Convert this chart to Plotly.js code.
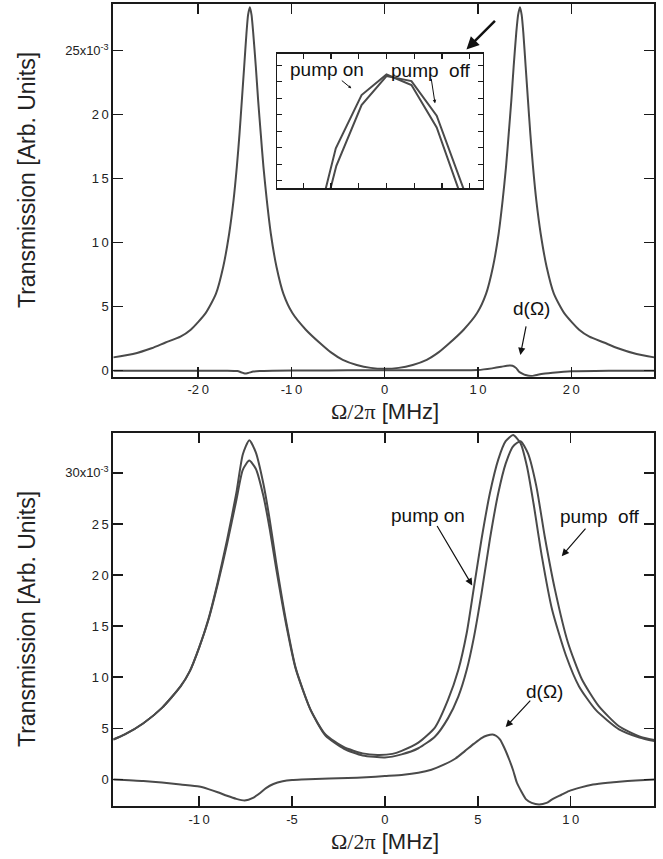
<!DOCTYPE html>
<html>
<head>
<meta charset="utf-8">
<script src="https://cdn.plot.ly/plotly-3.0.1.min.js"></script>
<style>html,body{margin:0;padding:0;background:#fff;}#chart{width:663px;height:859px;}</style>
</head>
<body>
<div id="chart"></div>
<script>
// ---------- DATA (transmission in units of 1e-3, frequency in MHz) ----------
// Top panel: transmission (pump on/off indistinguishable at this scale)
const topX = [-29.1,-27,-25,-23.5,-21.9,-20.8,-19.2,-18.1,-17.32,-16.68,-16.21,-15.86,-15.57,-15.32,-15.07,-14.82,-14.65,-14.46,-14.28,-14.1,-13.82,-13.57,-13.29,-13.0,-12.64,-12.21,-11.6,-10.86,-9.9,-8.46,-6.86,-5.8,-4.5,-3,-1.5,0,
              1.5,3,4.5,5.8,6.86,8.46,9.9,10.86,11.6,12.21,12.64,13.0,13.29,13.57,13.82,14.1,14.3,14.5,14.68,14.86,15.11,15.36,15.61,15.9,16.25,16.72,17.36,18.14,19.24,20.84,21.94,23.5,25,27,28.9];
const topT = [1.04,1.3,1.75,2.2,2.66,3.2,4.5,6.0,8.1,10.7,13.3,15.9,18.5,21.1,23.75,26.4,27.8,28.4,27.8,26.4,23.75,21.1,18.5,15.9,13.3,10.7,8.1,6.0,4.5,3.2,2.1,1.45,0.85,0.45,0.22,0.15,
              0.22,0.45,0.85,1.45,2.1,3.2,4.5,6.0,8.1,10.7,13.3,15.9,18.5,21.1,23.75,26.4,27.8,28.4,27.8,26.4,23.75,21.1,18.5,15.9,13.3,10.7,8.1,6.0,4.5,3.2,2.66,2.2,1.75,1.3,1.04];
// Top panel: difference d(Omega)
const topDX = [-29.1,-20,-17,-15.8,-15.4,-15.0,-14.6,-14.1,-13.4,-12,-8,-4,0,4,8,10,11.5,12.5,13.1,13.7,14.1,14.4,14.8,15.1,15.7,16.4,17.2,18,20,24,28.9];
const topD  = [0,0,0,-0.03,-0.12,-0.22,-0.17,-0.07,-0.02,0,0.01,0.03,0.04,0.04,0.04,0.05,0.18,0.3,0.39,0.39,0.2,-0.08,-0.25,-0.34,-0.42,-0.31,-0.22,-0.16,-0.05,0,0];

// Inset (zoom on the peak top, arbitrary units)
const insetOnX  = [-2.27,-1.83,-0.90,0,0.90,1.81,2.70];
const insetOnY  = [-1.0,1.96,5.19,6.44,5.80,3.23,-1.0];
const insetOffX = [-2.10,-1.81,-0.90,0,0.90,1.81,2.89];
const insetOffY = [-1.0,0.9,4.59,6.34,6.04,3.94,-1.0];

// Bottom panel: pump off
const botOffX = [-14.62,-14,-13,-12,-11,-10.5,-10,-9.5,-9,-8.5,-8,-7.65,-7.3,-6.95,-6.55,-6.2,-5.85,-5.3,-4.8,-4.0,-3.2,-2.2,-1.2,0,0.9,1.8,2.7,3.4,3.95,4.4,4.8,5.2,5.65,6.1,6.5,6.9,7.3,7.7,8.15,8.6,9.15,9.85,10.6,11.5,12.6,13.7,14.5];
const botOffT = [3.9,4.4,5.5,7.0,9.1,10.6,12.9,15.7,19.3,23.4,28.0,31.8,33.2,32.0,29.0,25.4,21.2,15.3,10.9,6.8,4.3,3.0,2.35,2.15,2.45,3.05,4.2,6.0,8.1,10.7,14.0,18.2,23.5,28.0,30.9,32.6,33.1,31.9,28.7,23.8,18.6,13.4,9.8,7.2,5.2,4.2,3.85];
// Bottom panel: pump on
const botOnX = [-14.62,-14,-13,-12,-11,-10.5,-10,-9.5,-9,-8.5,-8,-7.65,-7.3,-6.95,-6.55,-6.2,-5.85,-5.3,-4.8,-4.0,-3.2,-2.2,-1.2,-0.4,0.4,0.9,1.8,2.7,3.4,3.95,4.4,4.8,5.2,5.65,6.1,6.5,6.9,7.3,7.65,8.0,8.45,9.0,9.75,10.45,11.35,12.6,13.7,14.5];
const botOnT = [3.9,4.4,5.5,7.0,9.1,10.6,12.9,15.6,19.1,23.0,27.3,30.3,31.2,30.4,27.8,24.5,20.6,15.0,10.8,6.8,4.4,3.15,2.55,2.4,2.5,2.8,3.6,5.1,7.8,10.7,14.3,18.9,23.5,28.0,31.3,33.1,33.7,32.9,30.6,27.0,21.8,16.6,12.1,9.1,6.8,4.9,4.1,3.75];
// Bottom panel: difference d(Omega)
const botDX = [-14.62,-13,-12,-11,-10,-9.5,-9,-8.5,-8,-7.55,-7.1,-6.7,-6.4,-6,-5.5,-5,-4.5,-3,-2,-1,0,1,1.8,2.5,3.2,3.8,4.3,4.8,5.2,5.5,5.8,6.0,6.2,6.45,6.7,6.9,7.1,7.35,7.6,7.9,8.3,8.7,9.0,9.5,9.9,10.5,11.2,12,12.6,13.5,14.5];
const botD  = [0,-0.15,-0.3,-0.5,-0.7,-0.95,-1.25,-1.6,-1.9,-2.05,-1.8,-1.3,-0.85,-0.45,-0.18,-0.05,0,0.08,0.13,0.22,0.33,0.45,0.65,0.95,1.47,2.05,2.77,3.5,4.05,4.3,4.4,4.25,3.9,3.0,1.9,0.9,-0.3,-1.2,-1.95,-2.3,-2.45,-2.3,-1.95,-1.5,-1.14,-0.8,-0.5,-0.32,-0.23,-0.1,0];

// Tick labels
const topXTicks = [-20,-10,0,10,20];
const topXText  = ['-2\u20090','-1\u20090','0','1\u20090','2\u20090'];
const topYTicks = [0,5,10,15,20,25];
const topYText  = ['0','5','1\u20090','1\u20095','2\u20090','25x10<sup>-3</sup>'];
const botXTicks = [-10,-5,0,5,10];
const botXText  = ['-1\u20090','-5','0','5','1\u20090'];
const botYTicks = [0,5,10,15,20,25,30];
const botYText  = ['0','5','1\u20090','1\u20095','2\u20090','2\u20095','30x10<sup>-3</sup>'];
const insetXTicks = [-3,-2,-1,0,1,2,3];
const insetYTicks = [0,1,2,3,4,5,6,7];

// ---------- STYLE ----------
const LC = '#4a4a4a';
const AX = '#1a1a1a';
const SANS = 'Liberation Sans, Arial, Helvetica, sans-serif';
const W = 663, H = 859;
const px = x => x / W;
const py = y => 1 - y / H;

function line(x, y, xa, ya, smooth) {
  const ln = {color: LC, width: 2};
  if (smooth) { ln.shape = 'spline'; ln.smoothing = 0.6; }
  return {x: x, y: y, xaxis: xa, yaxis: ya, type: 'scatter', mode: 'lines',
          line: ln, hoverinfo: 'skip', showlegend: false};
}

const traces = [
  line(topX, topT, 'x', 'y', true),
  line(topDX, topD, 'x', 'y', true),
  line(insetOnX, insetOnY, 'x3', 'y3', false),
  line(insetOffX, insetOffY, 'x3', 'y3', false),
  line(botOffX, botOffT, 'x2', 'y2', true),
  line(botOnX, botOnT, 'x2', 'y2', true),
  line(botDX, botD, 'x2', 'y2', true)
];

function mainAxis(extra) {
  return Object.assign({
    showline: true, linewidth: 2, linecolor: AX, mirror: 'ticks',
    ticks: 'inside', ticklen: 10, tickwidth: 1.5, tickcolor: AX,
    showgrid: false, zeroline: false, tickmode: 'array',
    tickfont: {family: SANS, size: 13, color: '#222'}
  }, extra);
}

function txt(xref, yref, x, y, text, size, extra) {
  return Object.assign({xref: xref, yref: yref, x: x, y: y, text: text, showarrow: false,
    xanchor: 'center', yanchor: 'middle', font: {family: SANS, size: size, color: '#111'}}, extra || {});
}
function arrow(xref, yref, x, y, ax, ay, w, s) {
  return {xref: xref, yref: yref, x: x, y: y, ax: ax, ay: ay, text: '', showarrow: true,
    arrowhead: 2, arrowsize: s, arrowwidth: w, arrowcolor: '#111'};
}

const serifPart = '<span style="font-family:Liberation Serif, Times New Roman, serif">\u03A9/2\u03C0</span> [MHz]';
const titleFont = {family: SANS, size: 23, color: '#222'};

const layout = {
  width: W, height: H,
  margin: {l: 0, r: 0, t: 0, b: 0},
  paper_bgcolor: '#fff', plot_bgcolor: '#fff',
  showlegend: false,
  xaxis: mainAxis({domain: [px(113.3), px(654.3)], anchor: 'y', range: [-29.1, 28.9],
                   tickvals: topXTicks, ticktext: topXText}),
  yaxis: mainAxis({domain: [py(376.7), py(4)], anchor: 'x', range: [-0.47, 28.65],
                   tickvals: topYTicks, ticktext: topYText}),
  xaxis2: mainAxis({domain: [px(113.3), px(654.3)], anchor: 'y2', range: [-14.62, 14.5],
                   tickvals: botXTicks, ticktext: botXText}),
  yaxis2: mainAxis({domain: [py(806), py(433)], anchor: 'x2', range: [-2.6, 33.9],
                   tickvals: botYTicks, ticktext: botYText}),
  xaxis3: {domain: [px(277.3), px(482.7)], anchor: 'y3', range: [-3.94, 3.47],
           showline: true, linewidth: 1.5, linecolor: AX, mirror: 'ticks',
           ticks: 'inside', ticklen: 5, tickwidth: 1.2, tickcolor: AX,
           showticklabels: false, showgrid: false, zeroline: false,
           tickmode: 'array', tickvals: insetXTicks},
  yaxis3: {domain: [py(188.3), py(53.7)], anchor: 'x3', range: [-0.46, 7.7],
           showline: true, linewidth: 1.5, linecolor: AX, mirror: 'ticks',
           ticks: 'inside', ticklen: 5, tickwidth: 1.2, tickcolor: AX,
           showticklabels: false, showgrid: false, zeroline: false,
           tickmode: 'array', tickvals: insetYTicks},
  annotations: [
    // axis titles
    txt('paper', 'paper', px(27), py(180), 'Transmission [Arb. Units]', 23, {textangle: -90, font: titleFont}),
    txt('paper', 'paper', px(27), py(619), 'Transmission [Arb. Units]', 23, {textangle: -90, font: titleFont}),
    txt('paper', 'paper', px(385), py(411), serifPart, 22, {font: {family: SANS, size: 22, color: '#222'}}),
    txt('paper', 'paper', px(385), py(841), serifPart, 22, {font: {family: SANS, size: 22, color: '#222'}}),
    // top panel
    arrow('x', 'y', 8.76, 25.1, 30, -30, 2.5, 1),
    txt('x', 'y', 15.72, 4.875, 'd(\u03A9)', 19),
    arrow('x', 'y', 14.54, 1.23, 6, -30, 1.2, 1.2),
    // inset
    txt('x3', 'y3', -3.55, 6.75, 'pump on', 19, {xanchor: 'left'}),
    txt('x3', 'y3', 0.1, 6.7, 'pump  off', 19, {xanchor: 'left'}),
    arrow('x3', 'y3', -1.27, 5.6, -11, -9, 1, 0.6),
    arrow('x3', 'y3', 1.75, 4.69, -4, -26, 1, 0.7),
    // bottom panel
    txt('x2', 'y2', 2.32, 25.83, 'pump on', 19),
    arrow('x2', 'y2', 4.70, 18.98, -36, -61, 1.2, 1.2),
    txt('x2', 'y2', 11.58, 25.73, 'pump  off', 19),
    arrow('x2', 'y2', 9.52, 21.85, 25, -29, 1.2, 1.2),
    txt('x2', 'y2', 8.58, 8.64, 'd(\u03A9)', 19),
    arrow('x2', 'y2', 6.5, 5.12, 26, -28, 1.2, 1.2)
  ]
};

Plotly.newPlot('chart', traces, layout, {staticPlot: true, displayModeBar: false});
</script>
</body>
</html>
